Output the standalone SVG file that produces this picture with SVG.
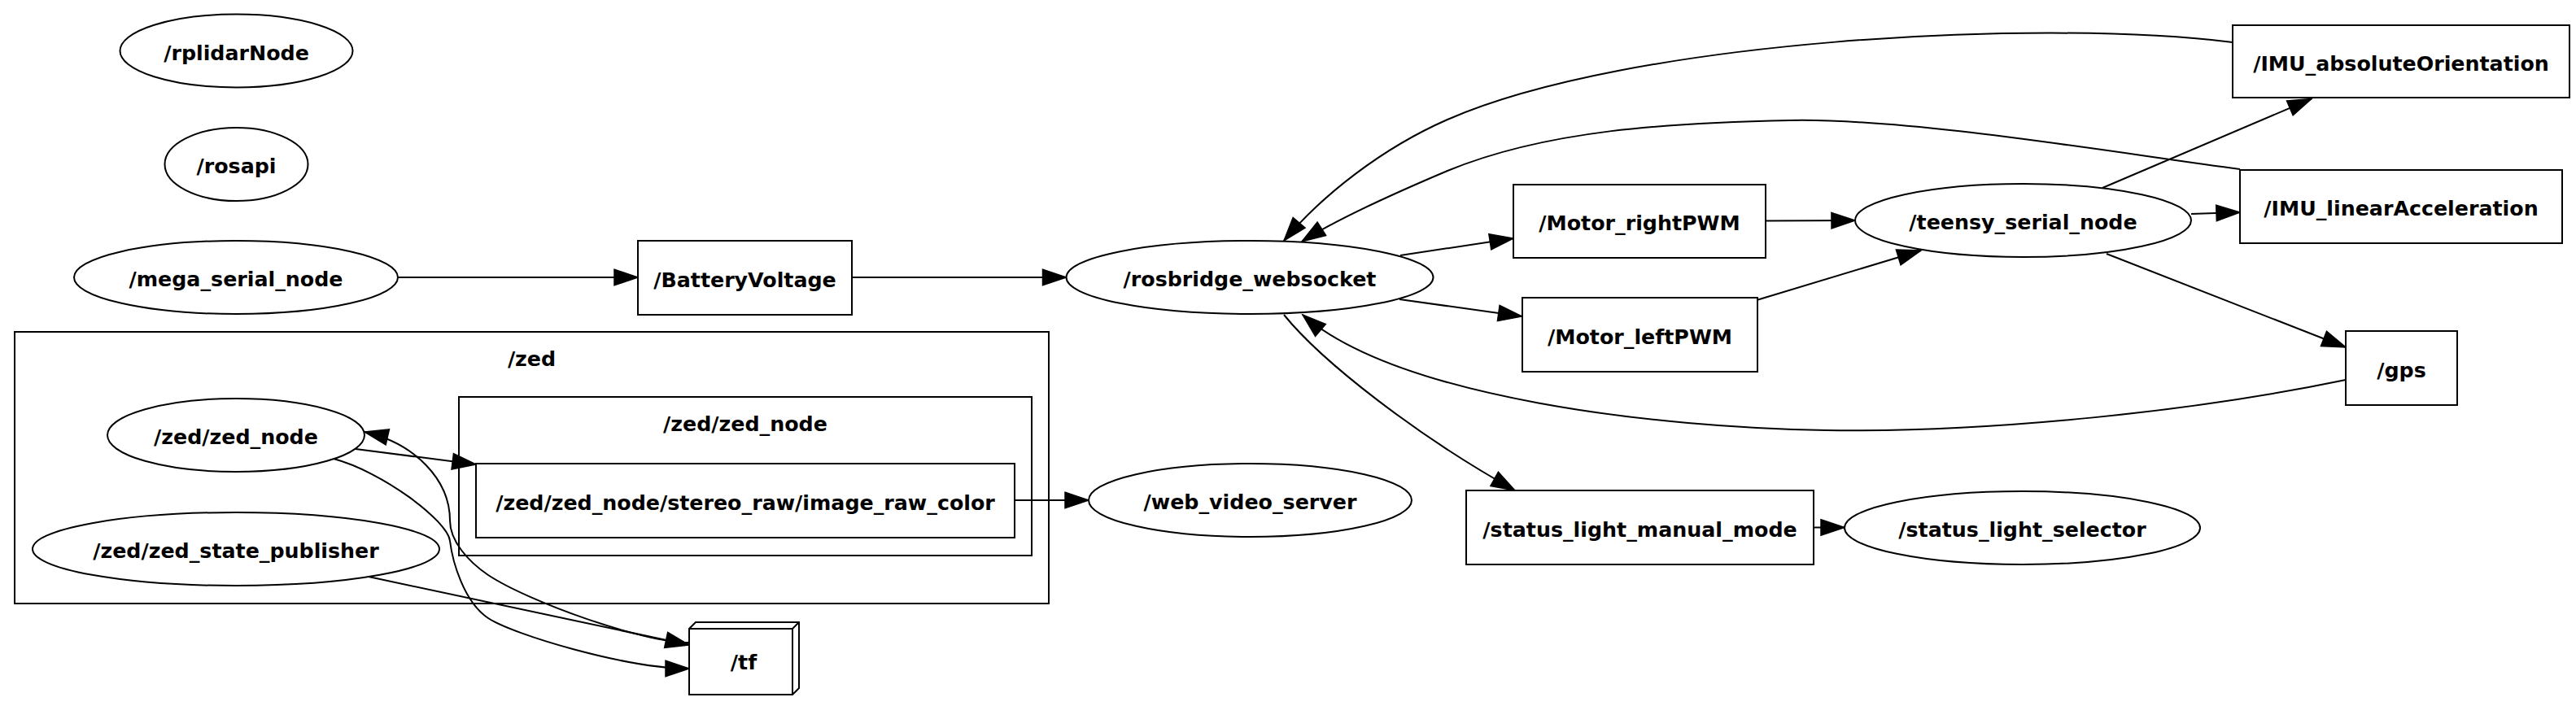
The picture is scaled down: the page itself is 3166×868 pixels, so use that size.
<svg xmlns="http://www.w3.org/2000/svg" width="3166" height="868" viewBox="0 0 3166 868">
<style>
.n{fill:#fff;stroke:#000;stroke-width:2}
.c{fill:none;stroke:#000;stroke-width:2}
.e{fill:none;stroke:#000;stroke-width:2;marker-end:url(#ah)}
text{font-family:"DejaVu Sans","Liberation Sans",sans-serif;font-weight:bold;font-size:25.3px;text-anchor:middle;fill:#000}
</style>
<defs>
<marker id="ah" markerUnits="userSpaceOnUse" markerWidth="32" markerHeight="22" refX="29" refY="9.75" orient="auto" overflow="visible">
<path d="M0,0 L29,9.75 L0,19.5 Z" fill="#000" stroke="#000" stroke-width="1.5"/>
</marker>
</defs>
<rect width="3166" height="868" fill="#fff"/>
<g id="cluster_zed">
<rect class="c" x="18" y="408" width="1271" height="334"/>
<text x="653.5" y="450">/zed</text>
</g>
<g id="cluster_zed_zed_node">
<rect class="c" x="564" y="488" width="704" height="195"/>
<text x="916" y="530">/zed/zed_node</text>
</g>
<g id="connectors">
<path class="e" d="M489,341 L784,341"/>
<path class="e" d="M1047,341 L1310.5,341"/>
<path class="e" d="M1721,314 L1860,293"/>
<path class="e" d="M1720,368 L1870.5,389"/>
<path class="e" d="M2170,271.5 L2280,271"/>
<path class="e" d="M2159,369 L2361,308"/>
<path class="e" d="M2584,231 L2841,121.5"/>
<path class="e" d="M2693,263 L2753,261"/>
<path class="e" d="M2589,312 L2883,427"/>
<path class="e" d="M2744,52 C2500,22 2000,50 1779,147 C1699,182 1625,240 1578,296"/>
<path class="e" d="M2753,208 C2600,188 2350,145 2200,148 C2050,151 1900,160 1779,210 C1720,235 1645,268 1600,297"/>
<path class="e" d="M2883,467 C2700,505 2450,532 2245,529 C2040,526 1720,490 1601,387"/>
<path class="e" d="M1578,387 C1625,445 1742,536 1862,603"/>
<path class="e" d="M1247,615 L1338,615"/>
<path class="e" d="M2229,648.5 L2267,648.5"/>
<path class="e" d="M437,552 L585,571"/>
<path class="e" d="M453,709 L847,793"/>
<path class="e" d="M410,564 C470,580 550,640 553,665 C556,690 570,740 600,760 C630,780 770,822 847,822"/>
<path class="e" d="M847,790 C790,790 650,740 600,707 C575,690 553,665 553,640 C553,590 510,545 448,531"/>
</g>
<g id="rplidarNode"><ellipse class="n" cx="290.5" cy="62.5" rx="143" ry="45"/><text x="290.5" y="73.5">/rplidarNode</text></g>
<g id="rosapi"><ellipse class="n" cx="290.5" cy="202" rx="88" ry="45"/><text x="290.5" y="213">/rosapi</text></g>
<g id="mega_serial_node"><ellipse class="n" cx="290" cy="341" rx="199" ry="45"/><text x="290" y="352">/mega_serial_node</text></g>
<g id="BatteryVoltage"><rect class="n" x="784" y="296" width="263" height="91"/><text x="915.5" y="352.5">/BatteryVoltage</text></g>
<g id="rosbridge_websocket"><ellipse class="n" cx="1536" cy="341" rx="225.5" ry="45"/><text x="1536" y="352">/rosbridge_websocket</text></g>
<g id="Motor_rightPWM"><rect class="n" x="1860" y="227" width="310" height="90"/><text x="2015" y="283">/Motor_rightPWM</text></g>
<g id="Motor_leftPWM"><rect class="n" x="1871" y="366" width="289" height="91"/><text x="2015.5" y="422.5">/Motor_leftPWM</text></g>
<g id="teensy_serial_node"><ellipse class="n" cx="2486.5" cy="271" rx="206.5" ry="45"/><text x="2486.5" y="282">/teensy_serial_node</text></g>
<g id="IMU_absoluteOrientation"><rect class="n" x="2744" y="31" width="414" height="89"/><text x="2951" y="86.5">/IMU_absoluteOrientation</text></g>
<g id="IMU_linearAcceleration"><rect class="n" x="2753" y="209" width="396" height="90"/><text x="2951" y="265">/IMU_linearAcceleration</text></g>
<g id="gps"><rect class="n" x="2883" y="407" width="137" height="91"/><text x="2951.5" y="463.5">/gps</text></g>
<g id="web_video_server"><ellipse class="n" cx="1536.5" cy="615" rx="198.5" ry="45"/><text x="1536.5" y="626">/web_video_server</text></g>
<g id="status_light_manual_mode"><rect class="n" x="1802" y="603" width="427" height="91"/><text x="2015.5" y="659.5">/status_light_manual_mode</text></g>
<g id="status_light_selector"><ellipse class="n" cx="2485.5" cy="649" rx="218.5" ry="45"/><text x="2485.5" y="660">/status_light_selector</text></g>
<g id="image_raw_color"><rect class="n" x="585" y="570" width="662" height="91"/><text x="916" y="626.5">/zed/zed_node/stereo_raw/image_raw_color</text></g>
<g id="zed_zed_node"><ellipse class="n" cx="290" cy="535" rx="158" ry="45"/><text x="290" y="546">/zed/zed_node</text></g>
<g id="zed_state_publisher"><ellipse class="n" cx="290" cy="675" rx="250" ry="45"/><text x="290" y="686">/zed/zed_state_publisher</text></g>
<g id="tf">
<path class="n" d="M847,773 L855,765 L982,765 L982,846 L974,854 L847,854 Z"/>
<path class="c" d="M847,773 L974,773 L982,765 M974,773 L974,854"/>
<text x="914" y="823">/tf</text>
</g>
</svg>
